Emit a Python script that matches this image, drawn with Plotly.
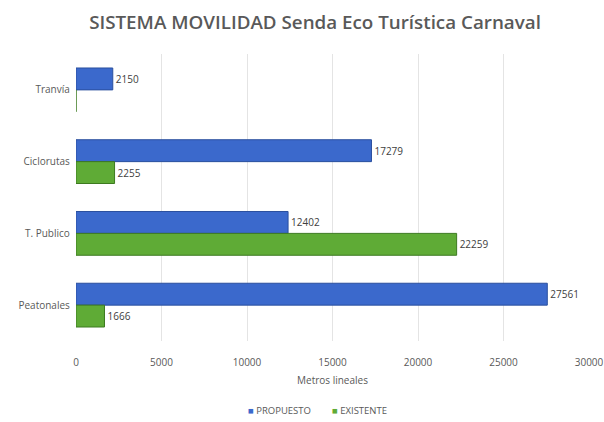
import plotly.graph_objects as go

# Movilidad: metros lineales por sistema
categorias = ["Tranvía", "Ciclorutas", "T. Publico", "Peatonales"]
propuesto = [2150, 17279, 12402, 27561]
existente = [0, 2255, 22259, 1666]
ticks_x = [0, 5000, 10000, 15000, 20000, 25000, 30000]
series = ["PROPUESTO", "EXISTENTE"]

AZUL = "#3b69cc"
VERDE = "#5fab36"
FONT = "Open Sans"
GRIS = "#595959"

W, H = 604, 422
M_L, M_R, M_T, M_B = 76, 15, 54, 81
PLOT_W = W - M_L - M_R
PLOT_H = H - M_T - M_B


def etiquetas(vals):
    return [str(v) if v else "" for v in vals]


fig = go.Figure()
for nombre, vals, color, borde in [
    (series[0], propuesto, AZUL, "#2a4f9e"),
    (series[1], existente, VERDE, "#3d7a20"),
]:
    fig.add_trace(go.Bar(
        name=nombre, y=categorias, x=vals, orientation="h",
        marker=dict(color=color, line=dict(color=borde, width=1)),
        text=etiquetas(vals), textposition="outside", cliponaxis=False,
        textfont=dict(family=FONT, size=10, color="#404040"),
        showlegend=False,
    ))

# Leyenda compacta con cuadros de color junto al texto (posiciones en px de la figura)
leyenda = [(series[0], AZUL, 246), (series[1], VERDE, 330)]
y_leyenda = 410
for nombre, color, x0 in leyenda:
    fig.add_annotation(
        text=f'<span style="color:{color}">■</span> {nombre}',
        x=(x0 - M_L) / PLOT_W, y=((H - y_leyenda) - M_B) / PLOT_H,
        xref="paper", yref="paper",
        xanchor="left", yanchor="middle", showarrow=False,
        font=dict(family=FONT, size=9.5, color=GRIS),
    )

fig.update_layout(
    width=W, height=H,
    paper_bgcolor="white", plot_bgcolor="white",
    font=dict(family=FONT, size=10, color=GRIS),
    title=dict(text="SISTEMA MOVILIDAD Senda Eco Turística Carnaval",
               x=315 / W, xanchor="center", y=(H - 22) / H,
               yanchor="middle",
               font=dict(family=FONT, size=18.8, color=GRIS, weight=600)),
    barmode="group", bargap=0.39, bargroupgap=0,
    margin=dict(l=M_L, r=M_R, t=M_T, b=M_B, autoexpand=False),
    showlegend=False,
    xaxis=dict(range=[0, 30000], tickvals=ticks_x,
               ticktext=[str(t) for t in ticks_x],
               automargin=False,
               showgrid=True, gridcolor="#e4e4e4", gridwidth=1,
               zeroline=False, showline=False, ticks="",
               ticklabelstandoff=14,
               tickfont=dict(family=FONT, size=10, color=GRIS),
               title=dict(text="Metros lineales", standoff=8,
                          font=dict(family=FONT, size=10, color=GRIS))),
    yaxis=dict(autorange="reversed", showgrid=False, zeroline=False,
               showline=False, ticks="", ticksuffix="  ", automargin=False,
               tickfont=dict(family=FONT, size=10, color=GRIS)),
)

fig.write_html("out.html")
